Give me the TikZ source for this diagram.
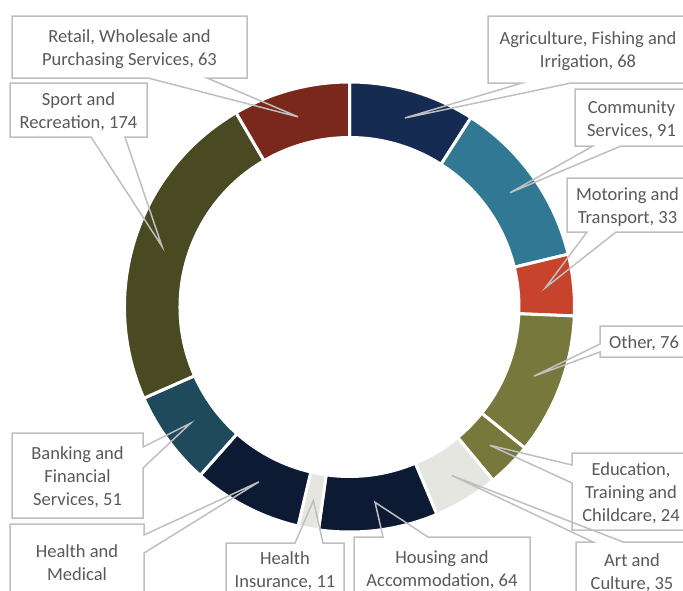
\documentclass[tikz,border=0pt]{standalone}
\usepackage{fontspec}
\setmainfont{Carlito}
\usetikzlibrary{calc}
\definecolor{cAgr}{HTML}{152B52}
\definecolor{cCom}{HTML}{307893}
\definecolor{cMot}{HTML}{C7432B}
\definecolor{cOth}{HTML}{77783B}
\definecolor{cArt}{HTML}{E6E6E1}
\definecolor{cHou}{HTML}{0C1B33}
\definecolor{cBank}{HTML}{1F4A5C}
\definecolor{cSport}{HTML}{494922}
\definecolor{cRetail}{HTML}{7A281C}
\definecolor{txtgray}{HTML}{595959}
\definecolor{boxgray}{HTML}{BFBFBF}
\begin{document}
\begin{tikzpicture}[x=1pt,y=-1pt,
  box/.style={inner sep=0pt, outer sep=0pt, fill=white},
  txt/.style={font=\fontsize{18.5}{23}\selectfont, text=txtgray, align=center,
    inner sep=0pt, outer sep=0pt},
  callout/.style={draw=boxgray, line width=1.5pt, line join=miter},
  seg/.style={draw=white, line width=3pt}]
\useasboundingbox (0,0) rectangle (683,590);
\clip (0,0) rectangle (683,590);
\coordinate (c) at (349.5,307);
% ring
\foreach \a/\b/\col/\nm in {0/68/cAgr/agr, 68/159/cCom/com, 159/192/cMot/mot,
  192/268/cOth/oth, 268/292/cOth/edu, 292/327/cArt/art, 327/391/cHou/hou,
  391/402/cArt/hins, 402/461/cHou/hmed, 461/512/cBank/bank,
  512/686/cSport/sport, 686/749/cRetail/retail}{
  \pgfmathsetmacro\sa{-90+\a/749*360}
  \pgfmathsetmacro\sb{-90+\b/749*360}
  \pgfmathsetmacro\sm{(\sa+\sb)/2}
  \path[seg, fill=\col] ($(c)+(\sa:225)$) arc[start angle=\sa, end angle=\sb, radius=225]
    -- ($(c)+(\sb:169.5)$) arc[start angle=\sb, end angle=\sa, radius=169.5] -- cycle;
  \coordinate (tip-\nm) at ($(c)+(\sm:197)$);
}
% Agriculture
\node[box, minimum width=200, minimum height=67] (agr) at (588,49.5) {};
\draw[callout] (agr.south west) -- (agr.north west) -- (agr.north east) -- (agr.south east)
  -- ([xshift=83pt]agr.south west) -- (tip-agr) -- ([xshift=34pt]agr.south west) -- cycle;
\node[txt] (agr-t) at ([yshift=-2pt]agr.center) {Agriculture, Fishing and\\Irrigation, 68};
% Community
\node[box, minimum width=113, minimum height=57] (com) at (631.5,117.5) {};
\draw[callout] (com.south west) -- (com.north west) -- (com.north east) -- (com.south east)
  -- ([xshift=46pt]com.south west) -- (tip-com) -- ([xshift=18pt]com.south west) -- cycle;
\node[txt] (com-t) at ([yshift=-2pt]com.center) {Community\\Services, 91};
% Motoring
\node[box, minimum width=121, minimum height=54] (mot) at (627.5,205) {};
\draw[callout] (mot.south west) -- (mot.north west) -- (mot.north east) -- (mot.south east)
  -- ([xshift=49pt]mot.south west) -- (tip-mot) -- ([xshift=20pt]mot.south west) -- cycle;
\node[txt] (mot-t) at ([yshift=-2pt]mot.center) {Motoring and\\Transport, 33};
% Other
\node[box, minimum width=88, minimum height=31] (oth) at (644,341.5) {};
\draw[callout] (oth.north west) -- (oth.north east) -- (oth.south east) -- (oth.south west)
  -- ([yshift=-26pt]oth.north west) -- (tip-oth) -- ([yshift=-18pt]oth.north west) -- cycle;
\node[txt] (oth-t) at ([yshift=-2pt]oth.center) {Other, 76};
% Education
\node[box, minimum width=118, minimum height=77] (edu) at (631,491.5) {};
\draw[callout] (edu.north west) -- (edu.north east) -- (edu.south east) -- (edu.south west)
  -- ([yshift=-30pt]edu.north west) -- (tip-edu) -- ([yshift=-12pt]edu.north west) -- cycle;
\node[txt] (edu-t) at ([yshift=-2pt]edu.center) {Education,\\Training and\\Childcare, 24};
% Art
\node[box, minimum width=112, minimum height=62] (art) at (632,573) {};
\draw[callout] (art.north west) -- ([xshift=17pt]art.north west) -- (tip-art)
  -- ([xshift=47pt]art.north west) -- (art.north east) -- (art.south east) -- (art.south west) -- cycle;
\node[txt] (art-t) at ([yshift=0.5pt]art.center) {Art and\\Culture, 35};
% Housing
\node[box, minimum width=176, minimum height=66] (hou) at (442,570) {};
\draw[callout] (hou.north west) -- ([xshift=29pt]hou.north west) -- (tip-hou)
  -- ([xshift=74pt]hou.north west) -- (hou.north east) -- (hou.south east) -- (hou.south west) -- cycle;
\node[txt] (hou-t) at ([yshift=0.5pt]hou.center) {Housing and\\Accommodation, 64};
% Health Insurance
\node[box, minimum width=118, minimum height=57] (hins) at (285,571.5) {};
\draw[callout] (hins.north west) -- ([xshift=69pt]hins.north west) -- (tip-hins)
  -- ([xshift=97pt]hins.north west) -- (hins.north east) -- (hins.south east) -- (hins.south west) -- cycle;
\node[txt] (hins-t) at ([yshift=0.5pt]hins.center) {Health\\Insurance, 11};
% Health and Medical
\node[box, minimum width=134, minimum height=96] (hmed) at (77,572) {};
\draw[callout] (hmed.north west) -- (hmed.north east) -- ([yshift=-11pt]hmed.north east) -- (tip-hmed)
  -- ([yshift=-29pt]hmed.north east) -- (hmed.south east) -- (hmed.south west) -- cycle;
\node[txt] (hmed-t) at ([yshift=-2pt]hmed.center) {Health and\\Medical\\\vphantom{Medical}};
% Banking
\node[box, minimum width=131, minimum height=85] (bank) at (77.5,475.5) {};
\draw[callout] (bank.north west) -- (bank.north east) -- ([yshift=-14pt]bank.north east) -- (tip-bank)
  -- ([yshift=-35pt]bank.north east) -- (bank.south east) -- (bank.south west) -- cycle;
\node[txt] (bank-t) at ([yshift=-2pt]bank.center) {Banking and\\Financial\\Services, 51};
% Sport
\node[box, minimum width=137, minimum height=54] (sport) at (78.5,110) {};
\draw[callout] (sport.south west) -- (sport.north west) -- (sport.north east) -- (sport.south east)
  -- ([xshift=115pt]sport.south west) -- (tip-sport) -- ([xshift=81pt]sport.south west) -- cycle;
\node[txt] (sport-t) at ([yshift=-2pt]sport.center) {Sport and\\Recreation, 174};
% Retail
\node[box, minimum width=235, minimum height=62] (retail) at (129.5,47) {};
\draw[callout] (retail.south west) -- (retail.north west) -- (retail.north east) -- (retail.south east)
  -- ([xshift=195pt]retail.south west) -- (tip-retail) -- ([xshift=136pt]retail.south west) -- cycle;
\node[txt] (retail-t) at ([yshift=-2pt]retail.center) {Retail, Wholesale and\\Purchasing Services, 63};
\end{tikzpicture}
\end{document}
